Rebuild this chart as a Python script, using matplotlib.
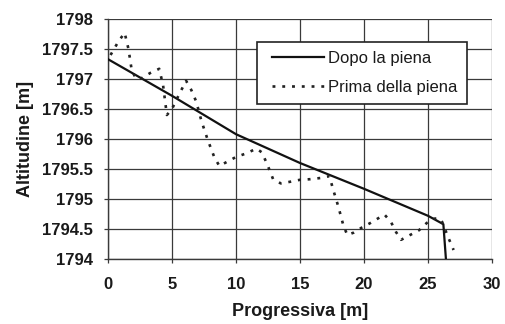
import matplotlib
matplotlib.use("Agg")
import matplotlib.pyplot as plt
from matplotlib.legend_handler import HandlerLine2D

# Data: "Dopo la piena" (after flood)
dopo_x = [0.0, 5.0, 10.0, 15.0, 20.0, 25.0, 26.2, 26.4]
dopo_y = [1797.33, 1796.72, 1796.08, 1795.6, 1795.17, 1794.72, 1794.58, 1794.0]

# Data: "Prima della piena" (before flood)
prima_x = [0.2, 0.8, 1.3, 1.6, 1.85, 2.2, 2.6, 3.3, 4.0, 4.3, 4.6, 5.0, 5.5, 6.1, 6.5,
           6.9, 7.3, 7.8, 8.3, 8.7, 9.3, 10.0, 10.8, 11.6, 12.0, 12.4, 12.9, 13.5, 14.3,
           15.0, 15.8, 16.6, 17.3, 17.6, 18.0, 18.4, 18.7, 19.2, 19.8, 20.5, 21.2, 21.6,
           22.1, 22.5, 22.9, 23.6, 24.3, 24.9, 25.4, 25.9, 26.1, 26.6, 27.0]
prima_y = [1797.4, 1797.62, 1797.77, 1797.5, 1797.15, 1797.0, 1797.01, 1797.1, 1797.17,
           1796.9, 1796.4, 1796.5, 1796.72, 1796.97, 1796.82, 1796.62, 1796.3, 1795.98,
           1795.7, 1795.55, 1795.62, 1795.7, 1795.76, 1795.84, 1795.78, 1795.6, 1795.33,
           1795.26, 1795.29, 1795.32, 1795.33, 1795.35, 1795.38, 1795.15, 1794.87,
           1794.55, 1794.4, 1794.44, 1794.52, 1794.6, 1794.69, 1794.74, 1794.62, 1794.45,
           1794.32, 1794.4, 1794.48, 1794.6, 1794.67, 1794.68, 1794.62, 1794.35, 1794.15]

x_ticks = [0, 5, 10, 15, 20, 25, 30]
y_ticks = [1794, 1794.5, 1795, 1795.5, 1796, 1796.5, 1797, 1797.5, 1798]
y_labels = ["1794", "1794.5", "1795", "1795.5", "1796", "1796.5", "1797", "1797.5", "1798"]

plt.rcParams['font.family'] = ['Liberation Sans', 'DejaVu Sans']


class OffsetHandler(HandlerLine2D):
    """Draws the legend line only in the right part of the handle box."""
    def create_artists(self, legend, orig_handle, xdescent, ydescent, width, height,
                       fontsize, trans):
        off = 0.1 * width
        return super().create_artists(legend, orig_handle, xdescent - off, ydescent,
                                      width - off, height, fontsize, trans)


fig = plt.figure(figsize=(5.06, 3.24), dpi=100)
ax = fig.add_axes([108/506, 1-259/324, (492-108)/506, (259-19)/324])

l1, = ax.plot(dopo_x, dopo_y, color='#111111', lw=1.6, label='Dopo la piena', zorder=3)
l2, = ax.plot(prima_x, prima_y, color='#222222', lw=1.9, linestyle=(0, (1.1, 2.6)),
              label='Prima della piena', zorder=3)

ax.set_xlim(0, 30)
ax.set_ylim(1794, 1798)
ax.set_xticks(x_ticks)
ax.set_yticks(y_ticks)
ax.set_yticklabels(y_labels)
ax.grid(True, color='#3a3a3a', lw=0.9)
ax.set_axisbelow(True)
for s in ['top', 'right']:
    ax.spines[s].set_visible(False)
for s in ['left', 'bottom']:
    ax.spines[s].set_color('#3a3a3a')
    ax.spines[s].set_linewidth(1.0)
ax.tick_params(axis='both', direction='out', length=3, width=0.9, color='#3a3a3a',
               labelsize=12, labelcolor='#1a1a1a')
ax.tick_params(axis='x', pad=10)
ax.tick_params(axis='y', pad=8)
for lbl in ax.get_xticklabels() + ax.get_yticklabels():
    lbl.set_fontweight('bold')

ax.set_xlabel('Progressiva [m]', fontsize=13, fontweight='bold', color='#1a1a1a', labelpad=8)
ax.set_ylabel('Altitudine [m]', fontsize=13, fontweight='bold', color='#1a1a1a', labelpad=6)

leg = ax.legend(loc='upper left', bbox_to_anchor=((256.7-108)/384, 1-(41.7-19)/240),
                fontsize=12, frameon=True, fancybox=False, shadow=False,
                handlelength=3.5, handletextpad=0.25, borderpad=0.55, labelspacing=0.85,
                borderaxespad=0, handler_map={l1: OffsetHandler(), l2: OffsetHandler()})
leg.get_frame().set_edgecolor('#222222')
leg.get_frame().set_linewidth(1.2)
leg.get_frame().set_facecolor('white')
leg.get_frame().set_alpha(1.0)
for t in leg.get_texts():
    t.set_color('#1a1a1a')

fig.savefig('out.png', dpi=100, facecolor='white')
